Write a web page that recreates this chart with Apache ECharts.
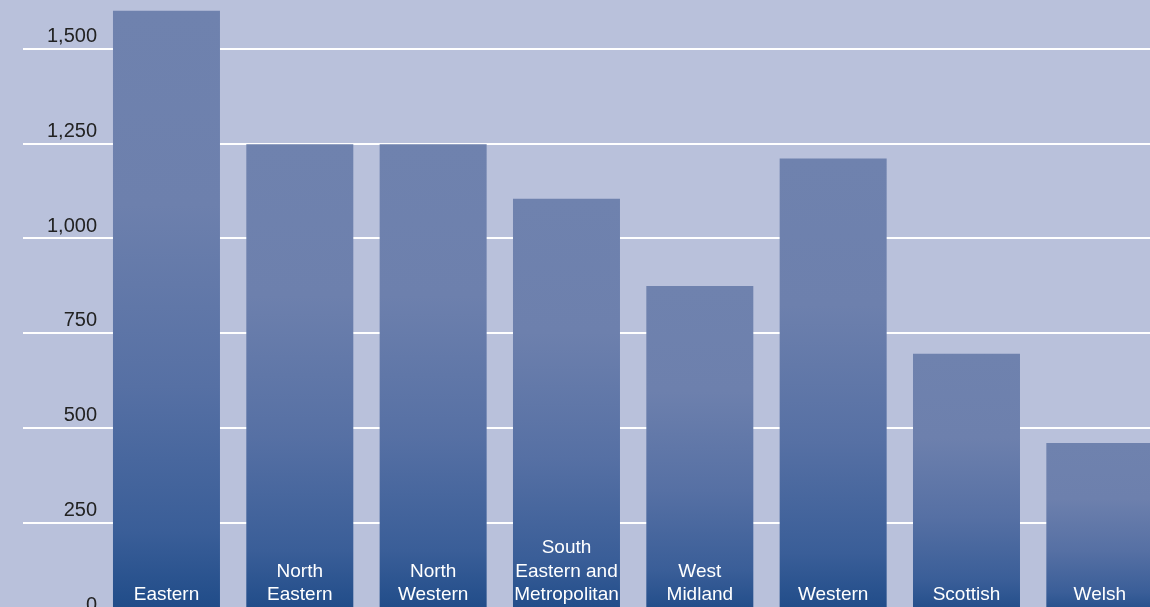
<!DOCTYPE html>
<html>
<head>
<meta charset="utf-8">
<script src="https://cdn.jsdelivr.net/npm/echarts@6/dist/echarts.min.js"></script>
<style>
html,body{margin:0;padding:0;background:#b9c1db;overflow:hidden;width:1150px;height:607px;}
#chart{position:absolute;left:0;top:-46px;width:1167px;height:663px;}
</style>
</head>
<body>
<div id="chart"></div>
<script>
var categories = ["Eastern", "North\nEastern", "North\nWestern", "South\nEastern and\nMetropolitan", "West\nMidland", "Western", "Scottish", "Welsh"];
var values = [1600, 1248, 1248, 1104, 874, 1210, 695, 459];
var yTicks = [0, 250, 500, 750, 1000, 1250, 1500];

var chart = echarts.init(document.getElementById('chart'), null, {renderer: 'canvas'});
var FONT = '"Liberation Sans", Arial, Helvetica, sans-serif';
var barGradient = new echarts.graphic.LinearGradient(0, 0, 0, 1, [
  {offset: 0, color: '#6f82ae'},
  {offset: 0.32, color: '#6d80ad'},
  {offset: 0.62, color: '#5670a4'},
  {offset: 0.86, color: '#3a5e98'},
  {offset: 1, color: '#1d4a87'}
]);

chart.setOption({
  backgroundColor: '#b9c1db',
  animation: false,
  grid: [
    {left: 23, right: 0, top: 0, bottom: 0},
    {left: 99.8, right: 0.5, top: 0, bottom: 0}
  ],
  xAxis: [
    {type: 'value', gridIndex: 0, show: false, min: 0, max: 1},
    {type: 'category', gridIndex: 1, data: categories, show: false,
     axisLine: {show: false}, axisTick: {show: false}, axisLabel: {show: false}}
  ],
  yAxis: [
    {type: 'value', gridIndex: 0, min: 0, max: 1750, interval: 250,
     axisLine: {show: false}, axisTick: {show: false},
     splitLine: {show: true, lineStyle: {color: '#ffffff', width: 2}},
     axisLabel: {
       inside: true, margin: 74, align: 'right', verticalAlign: 'bottom', lineHeight: 24,
       color: '#222222', fontSize: 20, fontFamily: FONT,
       formatter: function (v) { return yTicks.indexOf(v) >= 0 ? v.toLocaleString('en-US') : ''; }
     }},
    {type: 'value', gridIndex: 1, min: 0, max: 1750, interval: 250, show: false,
     splitLine: {show: false}}
  ],
  series: [{
    type: 'bar',
    xAxisIndex: 1,
    yAxisIndex: 1,
    data: values,
    barWidth: 107,
    itemStyle: {color: barGradient},
    label: {
      show: true,
      position: 'insideBottom',
      distance: 10,
      color: '#ffffff',
      fontSize: 19,
      lineHeight: 23.5,
      fontFamily: FONT,
      align: 'center',
      formatter: function (p) { return categories[p.dataIndex]; }
    }
  }]
});
</script>
</body>
</html>
